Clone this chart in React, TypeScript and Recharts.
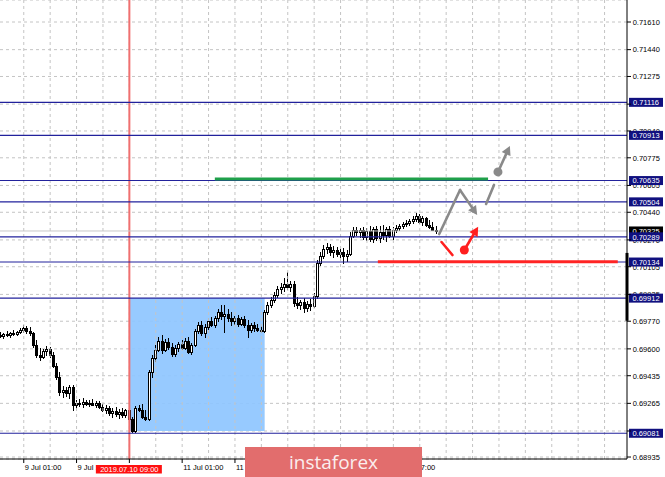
import React from 'react';
import { ComposedChart, Bar, XAxis, YAxis, CartesianGrid, ReferenceLine, ReferenceArea, ReferenceDot } from 'recharts';

// H1 candles, prices in points (69686 -> 0.69686)
const openPts = [
  69686, 69680, 69692, 69686, 69698, 69692, 69704, 69716, 69729, 69710,
  69698, 69624, 69563, 69551, 69587, 69600, 69563, 69495, 69428, 69335,
  69348, 69329, 69366, 69256, 69268, 69262, 69274, 69262, 69268, 69256,
  69268, 69243, 69225, 69237, 69206, 69219, 69200, 69212, 69194, 69225,
  69169, 69095, 69237, 69225, 69182, 69169, 69458, 69544, 69594, 69649,
  69594, 69643, 69612, 69569, 69606, 69630, 69606, 69649, 69581, 69624,
  69710, 69747, 69698, 69735, 69772, 69747, 69790, 69827, 69802, 69815,
  69790, 69772, 69790, 69753, 69784, 69747, 69716, 69747, 69729, 69716,
  69710, 69827, 69870, 69901, 69932, 69968, 69981, 69999, 69981, 69999,
  69882, 69870, 69888, 69852, 69876, 69864, 69925, 70129, 70172, 70215,
  70227, 70196, 70209, 70184, 70196, 70172, 70184, 70295, 70332, 70319,
  70332, 70289, 70325, 70276, 70338, 70282, 70319, 70301, 70338, 70295,
  70332, 70344, 70356, 70368, 70375, 70387, 70399, 70418, 70381, 70405,
  70362, 70350, 70332,
];
const highPts = [
  69704, 69698, 69710, 69704, 69716, 69710, 69729, 69747, 69741, 69735,
  69704, 69655, 69606, 69600, 69618, 69612, 69581, 69514, 69458, 69372,
  69366, 69379, 69379, 69286, 69292, 69299, 69286, 69286, 69292, 69280,
  69280, 69262, 69256, 69249, 69237, 69243, 69231, 69237, 69231, 69237,
  69182, 69249, 69256, 69262, 69225, 69471, 69563, 69624, 69673, 69686,
  69661, 69667, 69637, 69624, 69643, 69655, 69667, 69673, 69637, 69723,
  69766, 69772, 69753, 69790, 69796, 69802, 69845, 69870, 69870, 69845,
  69827, 69802, 69809, 69796, 69802, 69778, 69759, 69766, 69753, 69741,
  69839, 69888, 69919, 69950, 69987, 70005, 70036, 70073, 70018, 70018,
  69919, 69901, 69913, 69895, 69907, 69944, 70147, 70196, 70239, 70252,
  70246, 70233, 70227, 70215, 70221, 70209, 70319, 70350, 70350, 70344,
  70350, 70344, 70356, 70350, 70356, 70356, 70362, 70350, 70356, 70350,
  70362, 70368, 70381, 70393, 70399, 70418, 70436, 70430, 70418, 70411,
  70393, 70381, 70356,
];
const lowPts = [
  69667, 69661, 69673, 69667, 69680, 69680, 69692, 69698, 69692, 69680,
  69606, 69544, 69526, 69538, 69557, 69544, 69483, 69409, 69311, 69299,
  69305, 69292, 69219, 69231, 69243, 69237, 69249, 69243, 69249, 69237,
  69231, 69212, 69200, 69188, 69176, 69182, 69169, 69176, 69176, 69163,
  69083, 69083, 69212, 69169, 69157, 69157, 69422, 69520, 69581, 69569,
  69581, 69594, 69551, 69551, 69581, 69594, 69594, 69569, 69563, 69612,
  69692, 69680, 69667, 69716, 69735, 69729, 69766, 69778, 69698, 69766,
  69741, 69747, 69735, 69741, 69729, 69667, 69698, 69704, 69704, 69698,
  69698, 69809, 69852, 69882, 69913, 69938, 69950, 69962, 69950, 69858,
  69845, 69839, 69821, 69827, 69833, 69852, 69907, 70110, 70153, 70184,
  70172, 70160, 70166, 70160, 70123, 70135, 70172, 70282, 70295, 70282,
  70270, 70264, 70258, 70252, 70264, 70252, 70270, 70258, 70282, 70270,
  70313, 70325, 70338, 70350, 70356, 70368, 70381, 70368, 70356, 70350,
  70338, 70325, 70307,
];
const closePts = [
  69680, 69692, 69686, 69698, 69692, 69704, 69716, 69729, 69710, 69698,
  69624, 69563, 69551, 69587, 69600, 69563, 69495, 69428, 69335, 69348,
  69329, 69366, 69256, 69268, 69262, 69274, 69262, 69268, 69256, 69268,
  69243, 69225, 69237, 69206, 69219, 69200, 69212, 69194, 69225, 69169,
  69095, 69237, 69225, 69182, 69169, 69458, 69544, 69594, 69649, 69594,
  69643, 69612, 69569, 69606, 69630, 69606, 69649, 69581, 69624, 69710,
  69747, 69698, 69735, 69772, 69747, 69790, 69827, 69802, 69815, 69790,
  69772, 69790, 69753, 69784, 69747, 69716, 69747, 69729, 69716, 69710,
  69827, 69870, 69901, 69932, 69968, 69981, 69999, 69981, 69999, 69882,
  69870, 69888, 69852, 69876, 69864, 69925, 70129, 70172, 70215, 70227,
  70196, 70209, 70184, 70196, 70172, 70184, 70295, 70332, 70319, 70332,
  70289, 70325, 70276, 70338, 70282, 70319, 70301, 70338, 70295, 70332,
  70344, 70356, 70368, 70375, 70387, 70399, 70418, 70381, 70405, 70362,
  70350, 70332, 70325,
];

// time axis: bar index -> label (labels hidden under the tags / watermark are left out)
const timeTicks = [7, 23, 39, 55, 71, 87, 103, 119];
const timeLabels = ['9 Jul 01:00', '9 Jul 17:00', '', '11 Jul 01:00', '11 Jul 17:00', '', '', '15 Jul 17:00'];
const gridBars = [7, 15, 23, 31, 39, 47, 55, 63, 71, 79, 87, 95, 103, 111, 119, 127, 135, 143, 151, 159, 167, 175, 183];

const priceTicks = [
  0.7161, 0.7144, 0.71275, 0.71105, 0.7094, 0.70775, 0.70605, 0.7044, 0.7027,
  0.70105, 0.69935, 0.6977, 0.696, 0.69435, 0.69265, 0.69095, 0.68935,
];
const hiddenPrices = [0.71105, 0.69095];
const levels = [0.71116, 0.70913, 0.70635, 0.70504, 0.70289, 0.70134, 0.69912, 0.69081];
const bidPrice = 0.70325;
const markerBar = 39; // 2019.07.10 09:00

// drawing objects (bar index, price)
const zone = { x1: 39, x2: 80, y1: 0.69095, y2: 0.69912 };
const resistance = { x1: 64.9, x2: 147.7, y: 0.70645 };
const support = { x1: 114.3, x2: 187, y: 0.70135 };
const arrows = [
  { x1: 132.9, y1: 0.70306, x2: 139.2, y2: 0.70577, color: '#8a8a8a', head: false },
  { x1: 139.2, y1: 0.70577, x2: 144.4, y2: 0.70423, color: '#8a8a8a', head: true },
  { x1: 147.1, y1: 0.70491, x2: 149.5, y2: 0.70608, color: '#8a8a8a', head: false },
  { x1: 150.7, y1: 0.70688, x2: 154.3, y2: 0.70848, color: '#8a8a8a', head: true },
  { x1: 133.6, y1: 0.70257, x2: 136.9, y2: 0.70177, color: '#ff1f1f', head: false },
  { x1: 140.5, y1: 0.70208, x2: 144.7, y2: 0.70351, color: '#ff1f1f', head: true },
];
const arrowDots = [
  { x: 150.7, y: 0.70688, color: '#8a8a8a' },
  { x: 140.5, y: 0.70208, color: '#ff1f1f' },
];

const data = openPts.map((o, i) => ({
  i,
  range: [lowPts[i] / 1e5, highPts[i] / 1e5],
  open: o / 1e5,
  close: closePts[i] / 1e5,
}));

const FONT = 'Liberation Sans, Arial, sans-serif';
const NAVY_LINE = '#22229c';
const NAVY_TAG = '#10107f';
const GRID = '#c4c4c4';

const Candle = (props: any) => {
  const { x, y, width, height, payload } = props;
  const [lo, hi] = payload.range;
  const k = hi > lo ? height / (hi - lo) : 0;
  const cx = Math.round(x + width / 2 - 0.5);
  const yo = y + (hi - payload.open) * k;
  const yc = y + (hi - payload.close) * k;
  const top = Math.round(Math.min(yo, yc));
  const bh = Math.max(1, Math.round(Math.abs(yc - yo)));
  const up = payload.close >= payload.open;
  return (
    <g>
      <rect x={cx} y={Math.round(y)} width={1} height={Math.max(1, Math.round(height))} fill="#000" />
      <rect x={cx - 1} y={top} width={3} height={bh + 1} fill="#000" />
      {up && bh > 1 && <rect x={cx} y={top + 1} width={1} height={bh - 1} fill="#fff" />}
    </g>
  );
};

const priceTag = (text: string, fill: string) => (props: any) => {
  const { viewBox } = props;
  const x = viewBox.x + viewBox.width + 2;
  const y = viewBox.y;
  return (
    <g>
      <rect x={x} y={y - 4.5} width={34} height={9} fill={fill} />
      <text x={x + 17} y={y + 2.8} textAnchor="middle" fill="#fff" fontSize={7.5} fontFamily={FONT}>
        {text}
      </text>
    </g>
  );
};

const priceText = (text: string) => (props: any) => {
  const { viewBox } = props;
  return (
    <text x={viewBox.x + viewBox.width + 5.7} y={viewBox.y + 2.8} fill="#000" fontSize={7.5} fontFamily={FONT}>
      {text}
    </text>
  );
};

const timeText = (text: string) => (props: any) => {
  const { viewBox } = props;
  return (
    <text x={viewBox.x + 1} y={viewBox.y + viewBox.height + 10.5} fill="#000" fontSize={7.5} fontFamily={FONT}>
      {text}
    </text>
  );
};

const dateTag = (text: string) => (props: any) => {
  const { viewBox } = props;
  const cx = viewBox.x;
  const y = viewBox.y + viewBox.height + 6;
  return (
    <g>
      <rect x={cx - 33.5} y={y} width={66} height={8.5} fill="#ff1010" />
      <text x={cx} y={y + 7} textAnchor="middle" fill="#fff" fontSize={7.5} fontFamily={FONT}>
        {text}
      </text>
    </g>
  );
};

const arrowShape = (color: string, head: boolean) => (props: any) => {
  const { x1, y1, x2, y2 } = props;
  const dx = x2 - x1;
  const dy = y2 - y1;
  const len = Math.sqrt(dx * dx + dy * dy) || 1;
  const ux = dx / len;
  const uy = dy / len;
  const hl = head ? 9 : 0;
  const ex = x2 - ux * hl;
  const ey = y2 - uy * hl;
  return (
    <g>
      <line x1={x1} y1={y1} x2={ex} y2={ey} stroke={color} strokeWidth={2.6} strokeLinecap="round" />
      {head && (
        <polygon
          points={`${x2},${y2} ${ex - uy * 4.8},${ey + ux * 4.8} ${ex + uy * 4.8},${ey - ux * 4.8}`}
          fill={color}
        />
      )}
    </g>
  );
};

const NoText = () => <g />;

export default function App() {
  return (
    <div style={{ position: 'absolute', left: 0, top: 0, width: 665, height: 477, background: '#fff', overflow: 'hidden' }}>
      <ComposedChart width={665} height={477} data={data} margin={{ top: 0, right: 0, bottom: 0, left: 0 }}>
        <CartesianGrid vertical={false} stroke={GRID} strokeDasharray="3 3" />
        {gridBars.map((g) => (
          <ReferenceLine key={'g' + g} x={g} stroke={GRID} strokeDasharray="3 3" />
        ))}
        <ReferenceArea x1={zone.x1} x2={zone.x2} y1={zone.y1} y2={zone.y2} fill="#8ec6ff" fillOpacity={0.92} stroke="none" />
        <XAxis
          type="number"
          dataKey="i"
          domain={[-0.2, 189.8]}
          allowDataOverflow
          ticks={timeTicks}
          tick={<NoText />}
          tickSize={4}
          height={18}
          stroke="#000"
          interval={0}
        />
        <YAxis
          orientation="right"
          type="number"
          domain={[0.689228, 0.717453]}
          allowDataOverflow
          ticks={priceTicks}
          tick={<NoText />}
          tickSize={4}
          width={38}
          stroke="#000"
          interval={0}
        />
        {priceTicks
          .filter((p) => !hiddenPrices.includes(p))
          .map((p) => (
            <ReferenceLine key={'pt' + p} y={p} stroke="none" label={{ content: priceText(p.toFixed(5)) }} />
          ))}
        {timeTicks.map((t, k) =>
          timeLabels[k] ? (
            <ReferenceLine key={'tt' + t} x={t} stroke="none" label={{ content: timeText(timeLabels[k]) }} />
          ) : null
        )}
        <ReferenceLine x={markerBar} stroke="#f07070" strokeWidth={2} label={{ content: dateTag('2019.07.10 09:00') }} />
        <ReferenceLine y={bidPrice} stroke="#c8c8c8" strokeWidth={1} label={{ content: priceTag('0.70325', '#000') }} />
        {levels.map((v) => (
          <ReferenceLine key={'l' + v} y={v} stroke={NAVY_LINE} strokeWidth={1.1} label={{ content: priceTag(v.toFixed(5), NAVY_TAG) }} />
        ))}
        <ReferenceLine
          segment={[{ x: 189.8, y: 0.7019 }, { x: 189.8, y: 0.69773 }]}
          stroke="#000"
          strokeWidth={3}
          ifOverflow="visible"
        />
        <Bar dataKey="range" barSize={3} shape={<Candle />} isAnimationActive={false} />
        <ReferenceLine
          segment={[{ x: resistance.x1, y: resistance.y }, { x: resistance.x2, y: resistance.y }]}
          stroke="#1fa04a"
          strokeWidth={3}
        />
        <ReferenceLine
          segment={[{ x: support.x1, y: support.y }, { x: support.x2, y: support.y }]}
          stroke="#ff2424"
          strokeWidth={3}
        />
        {arrows.map((a, k) => (
          <ReferenceLine
            key={'a' + k}
            segment={[{ x: a.x1, y: a.y1 }, { x: a.x2, y: a.y2 }]}
            shape={arrowShape(a.color, a.head)}
          />
        ))}
        {arrowDots.map((d, k) => (
          <ReferenceDot key={'d' + k} x={d.x} y={d.y} r={4.5} fill={d.color} stroke="none" />
        ))}
      </ComposedChart>
      <div
        style={{
          position: 'absolute',
          left: 245,
          top: 447,
          width: 177,
          height: 30,
          background: '#e26d6d',
          color: '#fbeeee',
          fontFamily: '"Open Sans", sans-serif',
          fontSize: 19,
          lineHeight: '30px',
          textAlign: 'center',
        }}
      >
        instaforex
      </div>
    </div>
  );
}
